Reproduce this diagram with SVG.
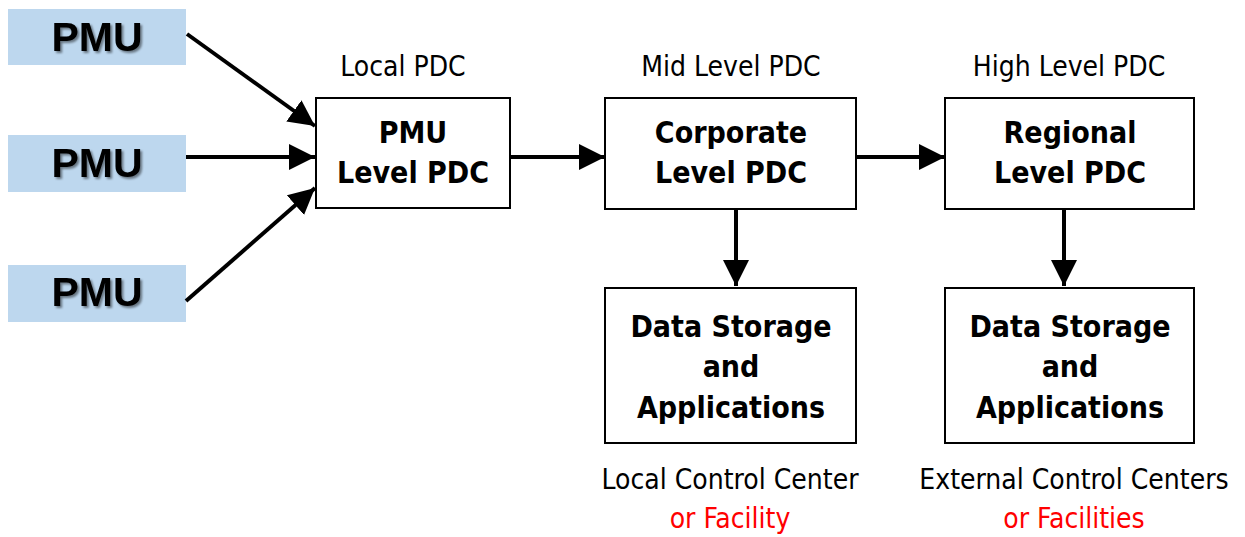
<svg xmlns="http://www.w3.org/2000/svg" width="1245" height="537" viewBox="0 0 1245 537">
<style>
.pmu{fill:#bdd7ee}
.pmut{font-family:"Liberation Sans",Arial,sans-serif;font-weight:bold;font-size:41px;fill:#000;text-anchor:middle;filter:url(#sh)}
.box{fill:#fff;stroke:#000;stroke-width:2}
.bt{font-family:"DejaVu Sans Condensed","DejaVu Sans",sans-serif;font-stretch:condensed;font-weight:bold;font-size:30px;fill:#000;text-anchor:middle}
.lbl{font-family:"DejaVu Sans Condensed","DejaVu Sans",sans-serif;font-stretch:condensed;font-size:28px;fill:#000;text-anchor:middle}
.red{fill:#ff0000}
.conn line{stroke:#000;stroke-width:4;marker-end:url(#ah)}
</style>
<defs>
<filter id="sh" x="-20%" y="-20%" width="140%" height="140%">
<feDropShadow dx="2" dy="2" stdDeviation="1.2" flood-color="#000" flood-opacity="0.45"/>
</filter>
<marker id="ah" markerUnits="userSpaceOnUse" markerWidth="28" markerHeight="28" refX="26" refY="13" orient="auto" viewBox="0 0 28 26">
<path d="M0,0 L26,13 L0,26 Z" fill="#000"/>
</marker>
</defs>
<rect width="1245" height="537" fill="#fff"/>
<g id="pmu1"><rect class="pmu" x="8" y="9" width="178" height="56"/><text class="pmut" x="97" y="51">PMU</text></g>
<g id="pmu2"><rect class="pmu" x="8" y="135" width="178" height="57"/><text class="pmut" x="97" y="177">PMU</text></g>
<g id="pmu3"><rect class="pmu" x="8" y="265" width="178" height="57"/><text class="pmut" x="97" y="306">PMU</text></g>
<g id="localpdc"><text class="lbl" x="403" y="76">Local PDC</text><rect class="box" x="316" y="98" width="194" height="110"/><text class="bt" x="413" y="143">PMU</text><text class="bt" x="413" y="183">Level PDC</text></g>
<g id="midpdc"><text class="lbl" x="731" y="76">Mid Level PDC</text><rect class="box" x="605" y="98" width="251" height="111"/><text class="bt" x="731" y="143">Corporate</text><text class="bt" x="731" y="183">Level PDC</text></g>
<g id="highpdc"><text class="lbl" x="1069" y="76">High Level PDC</text><rect class="box" x="945" y="98" width="249" height="111"/><text class="bt" x="1070" y="143">Regional</text><text class="bt" x="1070" y="183">Level PDC</text></g>
<g id="store1"><rect class="box" x="605" y="288" width="251" height="155"/><text class="bt" x="731" y="337">Data Storage</text><text class="bt" x="731" y="377">and</text><text class="bt" x="731" y="418">Applications</text><text class="lbl" x="730" y="489">Local Control Center</text><text class="lbl red" x="730" y="528">or Facility</text></g>
<g id="store2"><rect class="box" x="945" y="288" width="249" height="155"/><text class="bt" x="1070" y="337">Data Storage</text><text class="bt" x="1070" y="377">and</text><text class="bt" x="1070" y="418">Applications</text><text class="lbl" x="1074" y="489">External Control Centers</text><text class="lbl red" x="1074" y="528">or Facilities</text></g>
<g id="connectors" class="conn">
<line x1="187" y1="34" x2="315" y2="126"/>
<line x1="186" y1="157" x2="315" y2="157"/>
<line x1="186" y1="301" x2="315" y2="188"/>
<line x1="510" y1="157" x2="605" y2="157"/>
<line x1="856" y1="157" x2="945" y2="157"/>
<line x1="736" y1="209" x2="736" y2="286"/>
<line x1="1064" y1="209" x2="1064" y2="286"/>
</g>
</svg>
